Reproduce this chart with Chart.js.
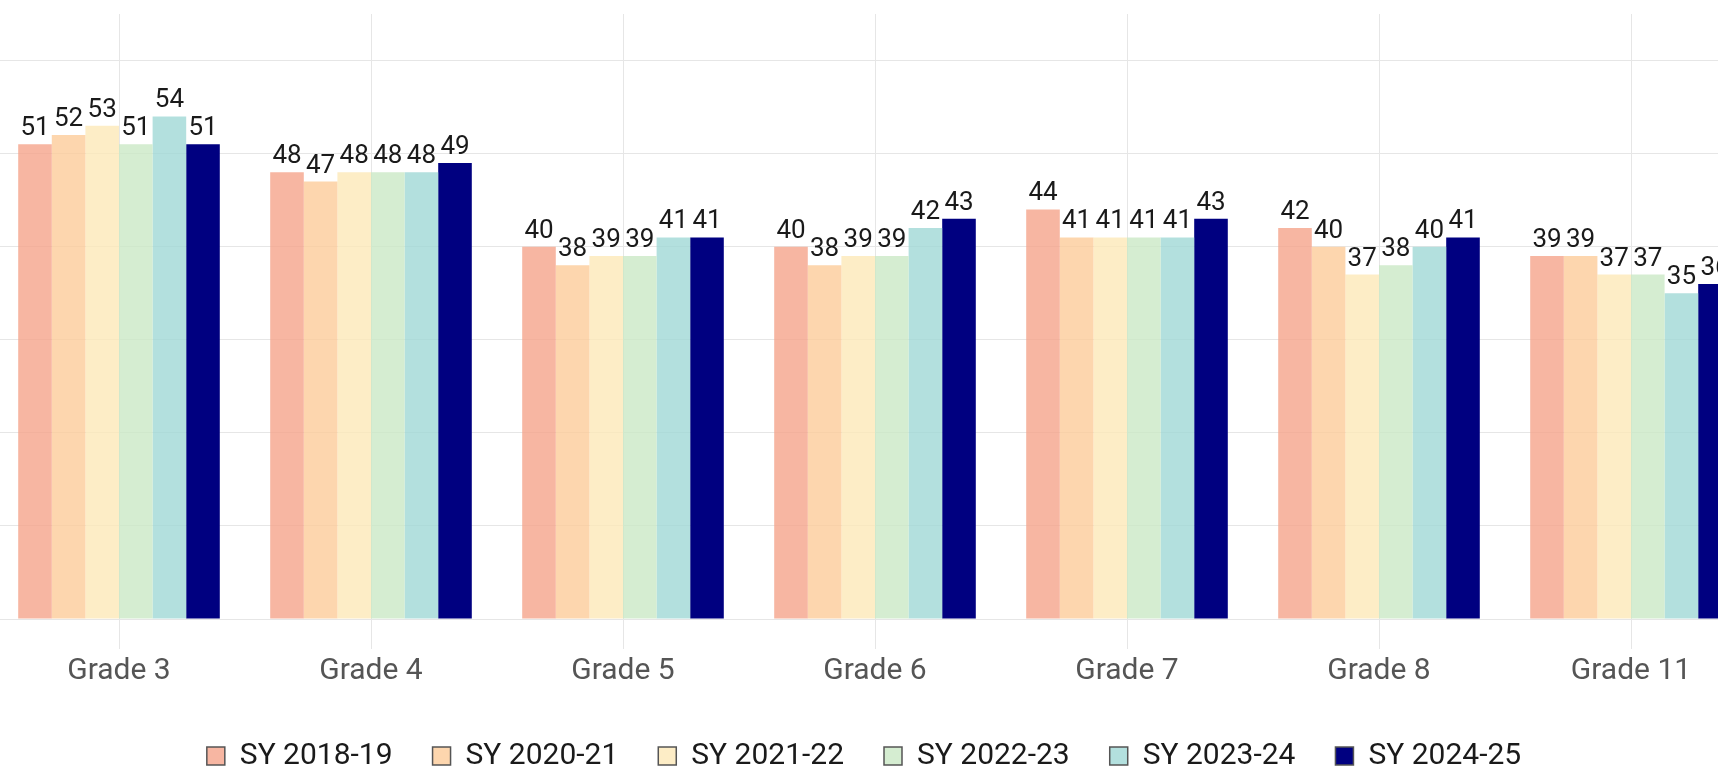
<!DOCTYPE html>
<html>
<head>
<meta charset="utf-8">
<script src="https://cdn.jsdelivr.net/npm/chart.js@4.4.1/dist/chart.umd.min.js"></script>
<style>
  html, body { margin: 0; padding: 0; background: #fff; overflow: hidden; }
  #wrap { position: absolute; left: -39px; top: 0; width: 1806px; height: 781px; }
</style>
</head>
<body>
<div id="wrap"><canvas id="chart"></canvas></div>
<script>
// categories and series
const grades = ["Grade 3", "Grade 4", "Grade 5", "Grade 6", "Grade 7", "Grade 8", "Grade 11"];
const years = ["SY 2018-19", "SY 2020-21", "SY 2021-22", "SY 2022-23", "SY 2023-24", "SY 2024-25"];
const sy1819 = [51, 48, 40, 40, 44, 42, 39];
const sy2021 = [52, 47, 38, 38, 41, 40, 39];
const sy2122 = [53, 48, 39, 39, 41, 37, 37];
const sy2223 = [51, 48, 39, 39, 41, 38, 37];
const sy2324 = [54, 48, 41, 42, 41, 40, 35];
const sy2425 = [51, 49, 41, 43, 43, 41, 36];

const colors = [
  "rgba(245, 164, 139, 0.8)",
  "rgba(253, 204, 154, 0.8)",
  "rgba(253, 233, 184, 0.8)",
  "rgba(203, 233, 198, 0.8)",
  "rgba(160, 216, 214, 0.8)",
  "rgba(0, 0, 128, 1)",
];

const FONT = "Roboto";

// draw the value above each bar
const valueLabels = {
  id: "valueLabels",
  afterDatasetsDraw(chart) {
    const ctx = chart.ctx;
    ctx.save();
    ctx.font = `26px ${FONT}`;
    ctx.fillStyle = "#1a1a1a";
    ctx.textAlign = "center";
    ctx.textBaseline = "alphabetic";
    chart.data.datasets.forEach((ds, i) => {
      chart.getDatasetMeta(i).data.forEach((bar, j) => {
        ctx.fillText(String(ds.data[j]), bar.x, bar.y - 9);
      });
    });
    ctx.restore();
  },
};

const seriesData = [sy1819, sy2021, sy2122, sy2223, sy2324, sy2425];

new Chart(document.getElementById("chart"), {
  type: "bar",
  data: {
    labels: grades,
    datasets: years.map((y, i) => ({
      label: y,
      data: seriesData[i],
      backgroundColor: colors[i],
      borderWidth: 0,
      barPercentage: 1.0,
      categoryPercentage: 0.8,
    })),
  },
  options: {
    responsive: true,
    maintainAspectRatio: false,
    animation: false,
    layout: { padding: { top: 14, left: 10, right: 10, bottom: 0 } },
    scales: {
      x: {
        grid: { color: "#e6e6e6", offset: false, tickLength: 30 },
        border: { display: false },
        ticks: { color: "#555", font: { family: FONT, size: 30 }, padding: 4 },
        afterFit: (scale) => { scale.height = 82; },
      },
      y: {
        min: 0,
        max: 65,
        ticks: { display: false, stepSize: 10 },
        grid: {
          drawTicks: false,
          color: (c) => (c.tick && c.tick.value > 60 ? "rgba(0,0,0,0)" : "#e6e6e6"),
        },
        border: { display: false },
        afterFit: (scale) => { scale.width = 22; },
      },
    },
    plugins: {
      tooltip: { enabled: false },
      legend: {
        position: "bottom",
        labels: {
          color: "#1a1a1a",
          font: { family: FONT, size: 30 },
          boxWidth: 18,
          boxHeight: 18,
          padding: 40,
          generateLabels(chart) {
            const items = Chart.defaults.plugins.legend.labels.generateLabels(chart);
            items.forEach((it) => {
              it.strokeStyle = "#555";
              it.lineWidth = 1.5;
            });
            return items;
          },
        },
      },
    },
  },
  plugins: [valueLabels],
});
</script>
</body>
</html>
